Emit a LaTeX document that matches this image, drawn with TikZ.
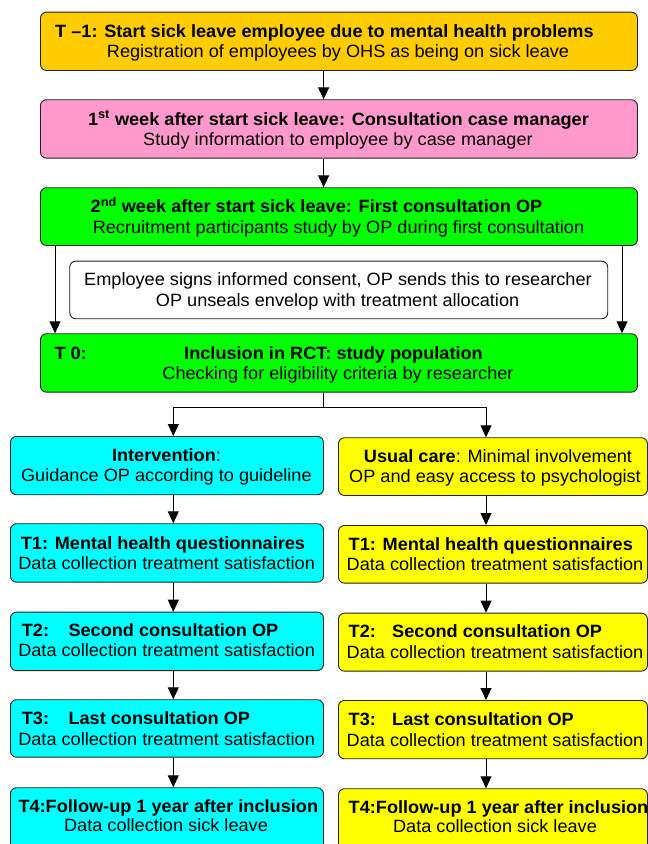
\documentclass[tikz,border=0pt]{standalone}
\usepackage{fontspec}
\setmainfont[FakeStretch=1.02]{Liberation Sans}
\usetikzlibrary{arrows.meta}
\definecolor{orng}{HTML}{FFCC00}
\definecolor{pnk}{HTML}{FF99CC}
\definecolor{grn}{HTML}{00FF00}
\definecolor{cyn}{HTML}{00FFFF}
\definecolor{ylw}{HTML}{FFFF00}
\definecolor{edge}{HTML}{202020}
\begin{document}
\begin{tikzpicture}[x=1pt,y=-1pt,
  box/.style={draw=edge, line width=0.9pt, rounded corners=6pt, inner sep=0pt, anchor=north west},
  txt/.style={inner sep=0pt, anchor=base, font=\fontsize{17.8}{20}\selectfont},
  txtw/.style={txt, anchor=base west},
  arr/.style={draw=black, line width=0.9pt, -{Triangle[length=12pt,width=11pt]}},
  ln/.style={draw=black, line width=0.9pt}]
\useasboundingbox (0,0) rectangle (648,844);
\clip (0,0) rectangle (648,844);
% main column boxes
\node[box, fill=orng, minimum width=597pt, minimum height=58.3pt] (b1) at (40,11.7) {};
\node[box, fill=pnk,  minimum width=597pt, minimum height=58.4pt] (b2) at (40,99.3) {};
\node[box, fill=grn,  minimum width=597pt, minimum height=57.7pt] (b3) at (40,187.3) {};
\node[box, fill=white,minimum width=538pt, minimum height=57.6pt] (wb) at (69.3,260.7) {};
\node[box, fill=grn,  minimum width=597pt, minimum height=58.4pt] (b4) at (40,333.3) {};
% left column
\node[box, fill=cyn, minimum width=313pt, minimum height=58.3pt] (iv) at (10,436) {};
\node[box, fill=cyn, minimum width=313pt, minimum height=58.4pt] (l1) at (10,523.3) {};
\node[box, fill=cyn, minimum width=313pt, minimum height=58.4pt] (l2) at (10,611.7) {};
\node[box, fill=cyn, minimum width=313pt, minimum height=57.4pt] (l3) at (10,699.3) {};
\node[box, fill=cyn, minimum width=313pt, minimum height=90pt]   (l4) at (10,787.3) {};
% right column
\node[box, fill=ylw, minimum width=309pt, minimum height=57.7pt] (uc) at (338,437.3) {};
\node[box, fill=ylw, minimum width=309pt, minimum height=57.7pt] (r1) at (338,525) {};
\node[box, fill=ylw, minimum width=309pt, minimum height=58pt]   (r2) at (338,612.7) {};
\node[box, fill=ylw, minimum width=309pt, minimum height=58.3pt] (r3) at (338,700) {};
\node[box, fill=ylw, minimum width=309pt, minimum height=90pt]   (r4) at (338,788.3) {};
% texts
\node[txtw] (b1a) at (55,37.3) {\textbf{T –1: Start sick leave employee due to mental health problems}};
\node[txt]  (b1b) at (338,57.3) {Registration of employees by OHS as being on sick leave};
\node[txt]  (b2a) at (338.5,125) {\textbf{1\textsuperscript{st} week after start sick leave: Consultation case manager}};
\node[txt]  (b2b) at (338,145.7) {Study information to employee by case manager};
\node[txtw] (b3a) at (90.5,212.3) {\textbf{2\textsuperscript{nd} week after start sick leave: First consultation OP}};
\node[txt]  (b3b) at (338.5,233.3) {Recruitment participants study by OP during first consultation};
\node[txt]  (wba) at (338,285) {Employee signs informed consent, OP sends this to researcher};
\node[txt]  (wbb) at (337.6,306) {OP unseals envelop with treatment allocation};
\node[txtw] (b4a) at (54.3,359.3) {\textbf{T 0:}};
\node[txt]  (b4b) at (333.5,359.3) {\textbf{Inclusion in RCT: study population}};
\node[txt]  (b4c) at (338,379) {Checking for eligibility criteria by researcher};
% left texts
\node[txt]  (iva) at (166.5,461.7) {\textbf{Intervention}:};
\node[txt]  (ivb) at (166.4,481.7) {Guidance OP according to guideline};
\node[txtw] (l1a) at (20.7,549.3) {\textbf{T1: Mental health questionnaires}};
\node[txt]  (l1b) at (166.6,569) {Data collection treatment satisfaction};
\node[txtw] (l2a) at (21.7,636) {\textbf{T2:}};
\node[txtw] (l2b) at (68.3,636) {\textbf{Second consultation OP}};
\node[txt]  (l2c) at (166.6,656.7) {Data collection treatment satisfaction};
\node[txtw] (l3a) at (21.7,724) {\textbf{T3:}};
\node[txtw] (l3b) at (68.3,724) {\textbf{Last consultation OP}};
\node[txt]  (l3c) at (166.6,745) {Data collection treatment satisfaction};
\node[txtw] (l4a) at (18.3,812.7) {\textbf{T4:Follow-up 1 year after inclusion}};
\node[txt]  (l4b) at (166,831.7) {Data collection sick leave};
% right texts
\node[txt]  (uca) at (498,462.7) {\textbf{Usual care}: Minimal involvement};
\node[txt]  (ucb) at (495,482.7) {OP and easy access to psychologist};
\node[txtw] (r1a) at (348.5,550.3) {\textbf{T1: Mental health questionnaires}};
\node[txt]  (r1b) at (495,570) {Data collection treatment satisfaction};
\node[txtw] (r2a) at (348.5,637.5) {\textbf{T2:}};
\node[txtw] (r2b) at (392,637.5) {\textbf{Second consultation OP}};
\node[txt]  (r2c) at (495,658) {Data collection treatment satisfaction};
\node[txtw] (r3a) at (348.5,725.5) {\textbf{T3:}};
\node[txtw] (r3b) at (392,725.5) {\textbf{Last consultation OP}};
\node[txt]  (r3c) at (495,746) {Data collection treatment satisfaction};
\node[txtw] (r4a) at (348.5,813.7) {\textbf{T4:Follow-up 1 year after inclusion}};
\node[txt]  (r4b) at (495,832.7) {Data collection sick leave};
% connectors
\coordinate (ax) at (323.6,0);
\coordinate (sl) at (55,0);
\coordinate (sr) at (622,0);
\coordinate (lx) at (173.3,0);
\coordinate (rx) at (486,0);
\coordinate (sp) at (323.6,407.3);
\draw[arr] (b1.south -| ax) -- (b2.north -| ax);
\draw[arr] (b2.south -| ax) -- (b3.north -| ax);
\draw[arr] (b3.south -| sl) -- (b4.north -| sl);
\draw[arr] (b3.south -| sr) -- (b4.north -| sr);
\draw[ln] (b4.south -| ax) -- (sp);
\draw[arr] (sp) -| (iv.north -| lx);
\draw[arr] (sp) -| (uc.north -| rx);
\draw[arr] (iv.south -| lx) -- (l1.north -| lx);
\draw[arr] (l1.south -| lx) -- (l2.north -| lx);
\draw[arr] (l2.south -| lx) -- (l3.north -| lx);
\draw[arr] (l3.south -| lx) -- (l4.north -| lx);
\draw[arr] (uc.south -| rx) -- (r1.north -| rx);
\draw[arr] (r1.south -| rx) -- (r2.north -| rx);
\draw[arr] (r2.south -| rx) -- (r3.north -| rx);
\draw[arr] (r3.south -| rx) -- (r4.north -| rx);
\end{tikzpicture}
\end{document}
